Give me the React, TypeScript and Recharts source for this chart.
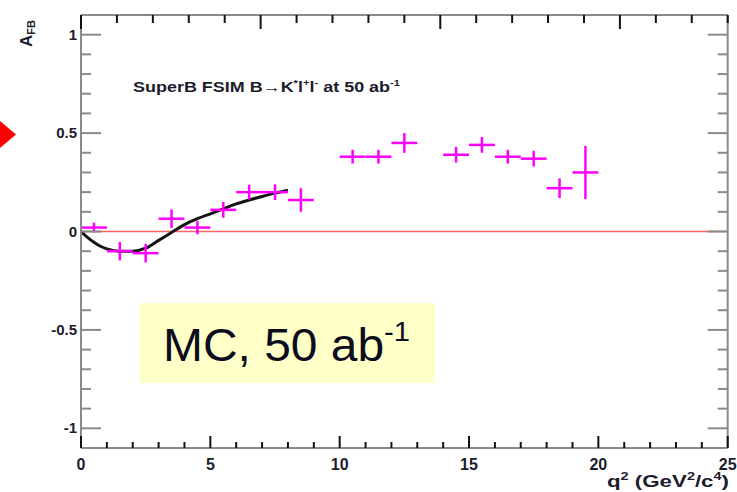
import React from 'react';
import {
  ComposedChart,
  Line,
  Scatter,
  ErrorBar,
  XAxis,
  YAxis,
  ReferenceLine,
} from 'recharts';

// SuperB FastSim A_FB points (bin centre, value, errors)
const binQ2 = [0.5, 1.5, 2.5, 3.5, 4.5, 5.5, 6.5, 7.5, 8.5, 10.5, 11.5, 12.5, 14.5, 15.5, 16.5, 17.5, 18.5, 19.5];
const afbValues = [0.02, -0.1, -0.11, 0.065, 0.02, 0.11, 0.2, 0.2, 0.16, 0.38, 0.38, 0.45, 0.39, 0.44, 0.38, 0.37, 0.22, 0.3];
const afbErrors = [0.025, 0.047, 0.047, 0.047, 0.034, 0.04, 0.038, 0.04, 0.06, 0.035, 0.035, 0.05, 0.04, 0.04, 0.035, 0.04, 0.05, 0.135];
const binHalfWidth = 0.5;

// SM expectation curve
const smQ2 = [0, 0.25, 0.5, 0.75, 1.0, 1.5, 2.0, 2.5, 3.0, 3.5, 4.0, 4.5, 5.0, 5.5, 6.0, 6.5, 7.0, 7.5, 8.0];
const smAfb = [0, -0.03, -0.055, -0.075, -0.088, -0.1, -0.1, -0.085, -0.045, -0.005, 0.035, 0.065, 0.09, 0.115, 0.14, 0.16, 0.178, 0.195, 0.21];

const xTicks = [0, 1, 2, 3, 4, 5, 6, 7, 8, 9, 10, 11, 12, 13, 14, 15, 16, 17, 18, 19, 20, 21, 22, 23, 24, 25];
const yTicks = [-1, -0.9, -0.8, -0.7, -0.6, -0.5, -0.4, -0.3, -0.2, -0.1, 0, 0.1, 0.2, 0.3, 0.4, 0.5, 0.6, 0.7, 0.8, 0.9, 1];

const points = binQ2.map((q, i) => ({ q, a: afbValues[i], ey: afbErrors[i], ex: binHalfWidth }));
const curve = smQ2.map((q, i) => ({ q, a: smAfb[i] }));

const FONT = "Arial, 'Liberation Sans', sans-serif";
const FRAME = '#8a8a8a';
const INK = '#1c1c2c';

const isMajorX = (v: number) => v % 5 === 0;
const isMajorY = (v: number) => Math.abs(v * 2 - Math.round(v * 2)) < 1e-6;

const BottomTick = (props: any) => {
  const { x, y, payload } = props;
  const v = payload.value;
  const major = isMajorX(v);
  return (
    <g>
      <line x1={x} y1={y} x2={x} y2={y - (major ? 12 : 6)} stroke="#111" strokeWidth={2} />
      {major && (
        <text x={x} y={y + 22} textAnchor="middle" fontSize={16} fontWeight="bold" fill={INK} fontFamily={FONT}>
          {v}
        </text>
      )}
    </g>
  );
};

const TopTick = (props: any) => {
  const { x, y, payload } = props;
  const major = isMajorX(payload.value);
  return <line x1={x} y1={y} x2={x} y2={y + (major ? 14 : 8)} stroke="#111" strokeWidth={2} />;
};

const LeftTick = (props: any) => {
  const { x, y, payload } = props;
  const v = payload.value;
  const major = isMajorY(v);
  return (
    <g>
      <line x1={x} y1={y} x2={x + (major ? 20 : 10)} y2={y} stroke={FRAME} strokeWidth={2} />
      {major && (
        <text x={x - 4} y={y + 5} textAnchor="end" fontSize={15} fontWeight="bold" fill={INK} fontFamily={FONT}>
          {String(v)}
        </text>
      )}
    </g>
  );
};

const RightTick = (props: any) => {
  const { x, y, payload } = props;
  const major = isMajorY(payload.value);
  return <line x1={x} y1={y} x2={x - (major ? 20 : 10)} y2={y} stroke={FRAME} strokeWidth={2} />;
};

const NoDot = () => <g />;

export default function App() {
  return (
    <div style={{ position: 'absolute', left: 0, top: 0, width: 737, height: 492, background: '#fff' }}>
      <ComposedChart width={737} height={492} data={curve} margin={{ top: 14, right: 8.3, bottom: 4, left: 21 }}>
        <XAxis
          xAxisId="b"
          type="number"
          dataKey="q"
          domain={[0, 25]}
          ticks={xTicks}
          interval={0}
          allowDataOverflow
          height={40}
          tickSize={0}
          tickMargin={0}
          tickLine={false}
          axisLine={{ stroke: FRAME, strokeWidth: 2 }}
          tick={<BottomTick />}
        />
        <XAxis
          xAxisId="t"
          orientation="top"
          type="number"
          domain={[0, 25]}
          ticks={xTicks}
          interval={0}
          allowDataOverflow
          height={1}
          tickSize={0}
          tickMargin={0}
          tickLine={false}
          axisLine={{ stroke: FRAME, strokeWidth: 2 }}
          tick={<TopTick />}
        />
        <YAxis
          yAxisId="l"
          type="number"
          domain={[-1.1, 1.1]}
          ticks={yTicks}
          interval={0}
          allowDataOverflow
          width={60}
          tickSize={0}
          tickMargin={0}
          tickLine={false}
          axisLine={{ stroke: FRAME, strokeWidth: 2 }}
          tick={<LeftTick />}
        />
        <YAxis
          yAxisId="r"
          orientation="right"
          type="number"
          domain={[-1.1, 1.1]}
          ticks={yTicks}
          interval={0}
          allowDataOverflow
          width={1}
          tickSize={0}
          tickMargin={0}
          tickLine={false}
          axisLine={{ stroke: FRAME, strokeWidth: 2 }}
          tick={<RightTick />}
        />

        {/* zero line */}
        <ReferenceLine xAxisId="b" yAxisId="l" y={0} stroke="#ff6262" strokeWidth={1.3} />

        {/* SM prediction */}
        <Line
          xAxisId="b"
          yAxisId="l"
          data={curve}
          dataKey="a"
          type="monotone"
          stroke="#151515"
          strokeWidth={3}
          dot={false}
          activeDot={false}
          isAnimationActive={false}
        />

        {/* FastSim points with bin widths */}
        <Scatter
          xAxisId="b"
          yAxisId="l"
          data={points}
          dataKey="a"
          shape={<NoDot />}
          isAnimationActive={false}
        >
          <ErrorBar dataKey="ex" direction="x" width={0} stroke="#ff00ff" strokeWidth={2.5} isAnimationActive={false} />
          <ErrorBar dataKey="ey" direction="y" width={0} stroke="#ff00ff" strokeWidth={2.5} isAnimationActive={false} />
        </Scatter>
      </ComposedChart>

      <svg
        width={737}
        height={492}
        style={{ position: 'absolute', left: 0, top: 0, pointerEvents: 'none' }}
      >
        {/* slide arrow */}
        <polygon points="0,121 16,134.5 0,148" fill="#ff0000" />

        {/* y title */}
        <text
          transform="translate(32,47) rotate(-90)"
          fontSize={17}
          fontWeight="bold"
          fill={INK}
          fontFamily={FONT}
        >
          A<tspan fontSize={11} dy={3}>FB</tspan>
        </text>

        {/* x title */}
        <text
          x={607}
          y={487}
          fontSize={17}
          fontWeight="bold"
          fill={INK}
          fontFamily={FONT}
          textLength={122}
          lengthAdjust="spacingAndGlyphs"
        >
          q<tspan fontSize={11} dy={-7}>2</tspan>
          <tspan dy={7}> (GeV</tspan>
          <tspan fontSize={11} dy={-7}>2</tspan>
          <tspan dy={7}>/c</tspan>
          <tspan fontSize={11} dy={-7}>4</tspan>
          <tspan dy={7}>)</tspan>
        </text>

        {/* sample label */}
        <text
          x={133}
          y={92}
          fontSize={14.5}
          fontWeight="bold"
          fill={INK}
          fontFamily={FONT}
          textLength={267}
          lengthAdjust="spacingAndGlyphs"
        >
          SuperB FSIM B→K<tspan fontSize={9} dy={-6}>*</tspan>
          <tspan dy={6}>l</tspan>
          <tspan fontSize={9} dy={-6}>+</tspan>
          <tspan dy={6}>l</tspan>
          <tspan fontSize={9} dy={-6}>-</tspan>
          <tspan dy={6}> at 50 ab</tspan>
          <tspan fontSize={9} dy={-6}>-1</tspan>
        </text>

        {/* MC box */}
        <rect x={140} y={303} width={295} height={80} fill="#ffffc8" />
        <text
          x={163}
          y={361}
          fontSize={46}
          fill="#0c0c1c"
          fontFamily={FONT}
          textLength={247}
          lengthAdjust="spacingAndGlyphs"
        >
          MC, 50 ab<tspan fontSize={28} dy={-20}>-1</tspan>
        </text>
      </svg>
    </div>
  );
}
